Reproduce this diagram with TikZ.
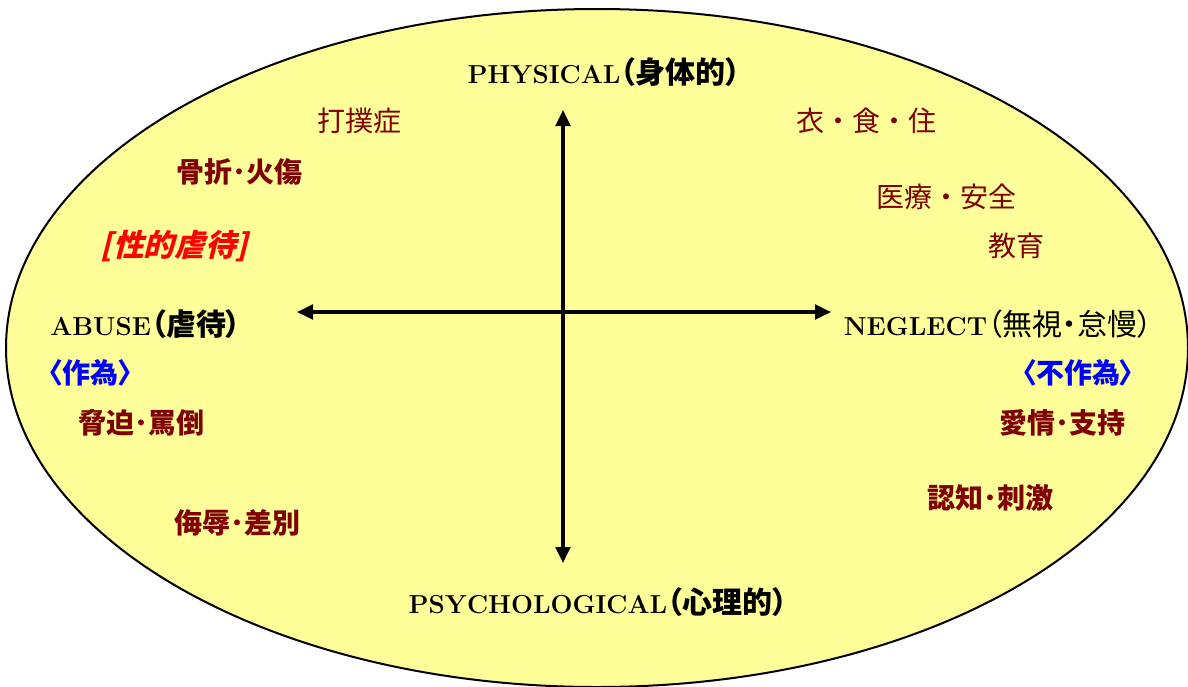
\documentclass[tikz,border=0pt]{standalone}
\usepackage{fontspec}
\usetikzlibrary{arrows.meta}
\newfontfamily\jp{Noto Sans CJK JP}[RawFeature=+palt]
\newfontfamily\jpw{Noto Sans CJK JP}
\definecolor{brn}{HTML}{800000}
\definecolor{fillyel}{HTML}{FFFF99}
\definecolor{abl}{HTML}{0000FF}
\definecolor{ard}{HTML}{FF0000}
\begin{document}
\begin{tikzpicture}[x=0.75pt,y=-0.75pt,
  axislbl/.style={inner sep=0pt, text=black, font=\bfseries\fontsize{19.5}{22}\selectfont},
  item/.style={inner sep=0pt, text=brn, font=\jpw\fontsize{21}{24}\selectfont},
  bitem/.style={inner sep=0pt, text=brn, font=\jp\bfseries\fontsize{21}{24}\selectfont},
  blu/.style={inner sep=0pt, text=abl, font=\jp\bfseries\fontsize{21}{24}\selectfont},
  axisline/.style={line width=2.3pt, {Triangle[length=12pt,width=11pt]}-{Triangle[length=12pt,width=11pt]}}]
\useasboundingbox (0,0) rectangle (1188,686);
\draw[line width=1.5pt, fill=fillyel] (597,348) ellipse [x radius=443.25pt, y radius=254.25pt];
% axes
\coordinate (top) at (563,110);
\coordinate (bottom) at (563,563);
\coordinate (left) at (297,312);
\coordinate (right) at (831,312);
\draw[axisline] (bottom) -- (top);
\draw[axisline] (left) -- (right);
% axis labels
\node[axislbl] (phys) at (604,72) {PHYSICAL{\jp\fontsize{22.5}{24}\selectfont（身体的）}};
\node[axislbl] (psy) at (598,602) {PSYCHOLOGICAL{\jp\fontsize{22.5}{24}\selectfont（心理的）}};
\node[axislbl, anchor=west] (abuse) at (50,324) {ABUSE{\jp\fontsize{22.5}{24}\selectfont（虐待）}};
\node[axislbl] (neg) at (998,324) {NEGLECT{\jp\mdseries\fontsize{22.5}{24}\selectfont（無視・怠慢）}};
% items
\node[item] (dab) at (359,121) {打撲症};
\node[item] (ish) at (866,121) {衣・食・住};
\node[item] (iry) at (946,197) {医療・安全};
\node[item] (kyo) at (1016,246) {教育};
\node[bitem] (kos) at (239,172) {骨折･火傷};
\node[bitem, text=ard, font=\jp\bfseries\fontsize{23}{26}\selectfont, xslant=0.25, transform shape] (sei) at (177,246) {[性的虐待]};
\node[blu, anchor=west] (sakui) at (48,373) {〈作為〉};
\node[blu] (fusakui) at (1078,373) {〈不作為〉};
\node[bitem] (kyh) at (141,423) {脅迫･罵倒};
\node[bitem] (bjk) at (237,523) {侮辱･差別};
\node[bitem] (aij) at (1062,423) {愛情･支持};
\node[bitem] (nin) at (990,498) {認知･刺激};
\end{tikzpicture}
\end{document}
